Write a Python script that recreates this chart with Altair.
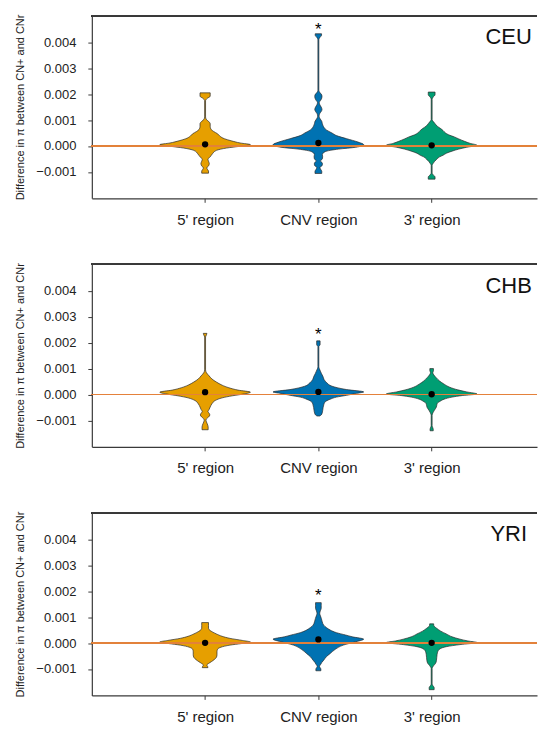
import json
import altair as alt
import pandas as pd

categories = ["5' region", "CNV region", "3' region"]
populations = ["CEU", "CHB", "YRI"]
violin_colors = ["#E69F00", "#0072B2", "#009E73"]

# Violin outlines: value (in units of 0.001) and half-width (category units)
ceu_5_val = [-1.05, -0.97, -0.9, -0.85, -0.77, -0.68, -0.59, -0.51, -0.42, -0.3, -0.17, -0.08, -0.01, 0.05, 0.115, 0.2, 0.28, 0.38, 0.47, 0.56, 0.66, 0.76, 0.86, 0.95, 1.03, 1.12, 1.75, 1.84, 1.92, 2.05]
ceu_5_hw = [0.03, 0.03, 0.02, 0.015, 0.03, 0.037, 0.03, 0.025, 0.045, 0.065, 0.1, 0.19, 0.31, 0.40, 0.31, 0.23, 0.17, 0.13, 0.11, 0.075, 0.05, 0.045, 0.045, 0.03, 0.01, 0.004, 0.004, 0.02, 0.045, 0.045]

ceu_cnv_val = [-1.06, -0.98, -0.9, -0.83, -0.74, -0.66, -0.58, -0.5, -0.42, -0.33, -0.22, -0.12, -0.05, 0.05, 0.15, 0.28, 0.4, 0.5, 0.62, 0.75, 0.86, 0.95, 1.05, 1.15, 1.25, 1.33, 1.41, 1.5, 1.6, 1.68, 1.76, 1.85, 1.91, 1.97, 2.05, 2.15, 4.1, 4.2, 4.27, 4.33]
ceu_cnv_hw = [0.03, 0.03, 0.02, 0.014, 0.035, 0.035, 0.018, 0.035, 0.038, 0.035, 0.06, 0.18, 0.33, 0.40, 0.35, 0.25, 0.16, 0.12, 0.07, 0.045, 0.035, 0.03, 0.015, 0.006, 0.012, 0.025, 0.032, 0.025, 0.012, 0.008, 0.02, 0.03, 0.032, 0.03, 0.015, 0.004, 0.004, 0.015, 0.028, 0.028]

ceu_3_val = [-1.28, -1.2, -1.12, -1.05, -0.75, -0.68, -0.6, -0.51, -0.42, -0.36, -0.28, -0.2, -0.12, -0.05, 0.03, 0.1, 0.18, 0.27, 0.35, 0.43, 0.51, 0.6, 0.67, 0.76, 0.86, 0.94, 1.02, 1.8, 1.88, 1.98, 2.08]
ceu_3_hw = [0.03, 0.03, 0.015, 0.004, 0.004, 0.012, 0.025, 0.045, 0.07, 0.1, 0.13, 0.18, 0.24, 0.31, 0.40, 0.34, 0.29, 0.24, 0.2, 0.15, 0.12, 0.1, 0.08, 0.05, 0.03, 0.015, 0.004, 0.004, 0.012, 0.03, 0.03]

chb_5_val = [-1.36, -1.25, -1.12, -1.0, -0.94, -0.87, -0.79, -0.72, -0.66, -0.58, -0.48, -0.36, -0.23, -0.13, -0.05, 0.02, 0.09, 0.17, 0.26, 0.36, 0.48, 0.6, 0.72, 0.84, 0.95, 2.22, 2.3, 2.36]
chb_5_hw = [0.027, 0.027, 0.018, 0.008, 0.012, 0.03, 0.042, 0.035, 0.025, 0.035, 0.045, 0.06, 0.09, 0.15, 0.24, 0.34, 0.40, 0.29, 0.21, 0.15, 0.1, 0.06, 0.035, 0.012, 0.004, 0.004, 0.012, 0.016]

chb_cnv_val = [-0.83, -0.79, -0.72, -0.62, -0.5, -0.39, -0.28, -0.19, -0.1, -0.03, 0.04, 0.1, 0.19, 0.32, 0.45, 0.58, 0.7, 0.8, 0.9, 1.0, 1.08, 1.85, 1.92, 2.07]
chb_cnv_hw = [0.012, 0.025, 0.033, 0.038, 0.042, 0.048, 0.06, 0.1, 0.16, 0.25, 0.33, 0.40, 0.25, 0.12, 0.075, 0.05, 0.04, 0.028, 0.018, 0.008, 0.004, 0.004, 0.015, 0.015]

chb_3_val = [-1.4, -1.34, -1.26, -1.2, -0.8, -0.7, -0.6, -0.5, -0.42, -0.34, -0.26, -0.18, -0.1, -0.04, 0.02, 0.1, 0.18, 0.28, 0.4, 0.52, 0.65, 0.75, 0.84, 0.92, 1.0]
chb_3_hw = [0.014, 0.014, 0.008, 0.004, 0.004, 0.012, 0.025, 0.04, 0.045, 0.05, 0.075, 0.11, 0.18, 0.27, 0.40, 0.31, 0.23, 0.16, 0.11, 0.07, 0.04, 0.02, 0.01, 0.016, 0.016]

yri_5_val = [-0.95, -0.9, -0.85, -0.79, -0.72, -0.64, -0.55, -0.45, -0.34, -0.24, -0.16, -0.08, -0.02, 0.04, 0.1, 0.18, 0.26, 0.35, 0.44, 0.52, 0.58, 0.68, 0.79]
yri_5_hw = [0.025, 0.022, 0.015, 0.03, 0.055, 0.08, 0.1, 0.105, 0.105, 0.11, 0.14, 0.22, 0.32, 0.40, 0.33, 0.22, 0.15, 0.1, 0.06, 0.035, 0.03, 0.03, 0.03]

yri_cnv_val = [-1.07, -1.0, -0.94, -0.9, -0.84, -0.75, -0.66, -0.53, -0.4, -0.24, -0.08, 0.04, 0.15, 0.24, 0.31, 0.4, 0.5, 0.6, 0.69, 0.82, 0.95, 1.05, 1.15, 1.25, 1.34, 1.45, 1.56]
yri_cnv_hw = [0.022, 0.022, 0.014, 0.01, 0.018, 0.03, 0.047, 0.07, 0.105, 0.15, 0.22, 0.32, 0.40, 0.3, 0.24, 0.16, 0.105, 0.07, 0.047, 0.034, 0.026, 0.018, 0.012, 0.018, 0.025, 0.025, 0.025]

yri_3_val = [-1.8, -1.72, -1.64, -1.58, -0.98, -0.92, -0.86, -0.78, -0.68, -0.56, -0.44, -0.32, -0.22, -0.14, -0.06, 0.02, 0.08, 0.15, 0.24, 0.35, 0.46, 0.57, 0.65, 0.7, 0.74]
yri_3_hw = [0.022, 0.022, 0.01, 0.004, 0.004, 0.01, 0.02, 0.035, 0.042, 0.045, 0.048, 0.055, 0.075, 0.13, 0.25, 0.40, 0.32, 0.25, 0.18, 0.13, 0.08, 0.044, 0.022, 0.018, 0.018]

# medians (units of 0.001), per population in category order
ceu_median = [0.064, 0.115, 0.026]
chb_median = [0.09, 0.10, 0.01]
yri_median = [0.01, 0.14, 0.01]

# significance star above the CNV region (units of 0.001)
star_value = [4.68, 2.5, 2.0]

outlines = {
    "CEU": [(ceu_5_val, ceu_5_hw), (ceu_cnv_val, ceu_cnv_hw), (ceu_3_val, ceu_3_hw)],
    "CHB": [(chb_5_val, chb_5_hw), (chb_cnv_val, chb_cnv_hw), (chb_3_val, chb_3_hw)],
    "YRI": [(yri_5_val, yri_5_hw), (yri_cnv_val, yri_cnv_hw), (yri_3_val, yri_3_hw)],
}
medians = {"CEU": ceu_median, "CHB": chb_median, "YRI": yri_median}

violin_rows, median_rows, star_rows = [], [], []
for pi, pop in enumerate(populations):
    for ci, (vals, hws) in enumerate(outlines[pop]):
        for v, w in zip(vals, hws):
            violin_rows.append({"pop": pop, "cat": categories[ci], "pos": ci + 1, "value": v / 1000, "hw": w})
        median_rows.append({"pop": pop, "cat": categories[ci], "pos": ci + 1, "value": medians[pop][ci] / 1000})
    star_rows.append({"pop": pop, "pos": 2, "value": star_value[pi] / 1000})

violin_df = pd.DataFrame(violin_rows)
median_df = pd.DataFrame(median_rows)
star_df = pd.DataFrame(star_rows)

Y_MIN, Y_MAX = -0.00202, 0.00503
X_MIN, X_MAX = 0, 3.93
AX = "#3a3a3a"
TXT = "#222222"

xscale = alt.Scale(domain=[X_MIN, X_MAX], nice=False, zero=False)
yscale = alt.Scale(domain=[Y_MIN, Y_MAX], nice=False, zero=False)
label_expr = json.dumps([""] + categories) + "[datum.value]"

xaxis = alt.Axis(values=[1, 2, 3], labelExpr=label_expr, title=None, grid=False,
                 tickSize=4, labelFontSize=15, labelPadding=10, labelColor=TXT,
                 domainColor=AX, tickColor=AX, domainWidth=1.2, labelFlush=False)
yaxis = alt.Axis(values=[-0.001, 0, 0.001, 0.002, 0.003, 0.004], format=".3f",
                 title="Difference in π between CN+ and CNr", grid=False, tickSize=4,
                 labelFontSize=13, labelPadding=12, labelColor=TXT, titleFontSize=11,
                 titleFontWeight="normal", titleColor=TXT, titlePadding=10,
                 domainColor=AX, tickColor=AX, domainWidth=1.2)


def panel(pop):
    violins = alt.Chart(violin_df).transform_filter(
        alt.datum.pop == pop
    ).transform_calculate(
        lo="datum.pos - datum.hw", hi="datum.pos + datum.hw"
    ).mark_area(
        orient="horizontal", interpolate="monotone", stroke="#2a2a2a", strokeWidth=0.7, fillOpacity=1
    ).encode(
        y=alt.Y("value:Q", scale=yscale, axis=yaxis),
        x=alt.X("lo:Q", scale=xscale, axis=xaxis),
        x2="hi:Q",
        color=alt.Color("cat:N", scale=alt.Scale(domain=categories, range=violin_colors), legend=None),
    )

    zero = alt.Chart(violin_df).transform_filter(alt.datum.pop == pop).mark_rule(
        color="#E3823B", strokeWidth=0.8
    ).encode(y=alt.Y(datum=0, scale=yscale, axis=yaxis))

    top = alt.Chart(violin_df).transform_filter(alt.datum.pop == pop).mark_rule(
        color=AX, strokeWidth=1.2
    ).encode(y=alt.Y(datum=Y_MAX, scale=yscale, axis=yaxis))

    med = alt.Chart(median_df).transform_filter(alt.datum.pop == pop).mark_circle(
        size=40, color="black", opacity=1
    ).encode(
        x=alt.X("pos:Q", scale=xscale, axis=xaxis),
        y=alt.Y("value:Q", scale=yscale, axis=yaxis),
    )

    star = alt.Chart(star_df).transform_filter(alt.datum.pop == pop).mark_text(
        text="*", fontSize=17, color="black", dy=5
    ).encode(
        x=alt.X("pos:Q", scale=xscale, axis=xaxis),
        y=alt.Y("value:Q", scale=yscale, axis=yaxis),
    )

    label = alt.Chart(star_df).transform_filter(alt.datum.pop == pop).mark_text(
        fontSize=22, color="#111111", align="center", baseline="middle"
    ).encode(
        x=alt.X(datum=3.68, scale=xscale, axis=xaxis),
        y=alt.Y(datum=0.0042, scale=yscale, axis=yaxis),
        text="pop:N",
    )

    return alt.layer(violins, zero, top, med, star, label).properties(width=446, height=183)


chart = alt.vconcat(*[panel(p) for p in populations], spacing=35).properties(
    padding={"left": 14, "top": 13, "right": 0, "bottom": 0}
).configure(font="Liberation Sans").configure_view(stroke=None)

chart.save("out.html", embed_options={"renderer": "svg", "actions": False})
